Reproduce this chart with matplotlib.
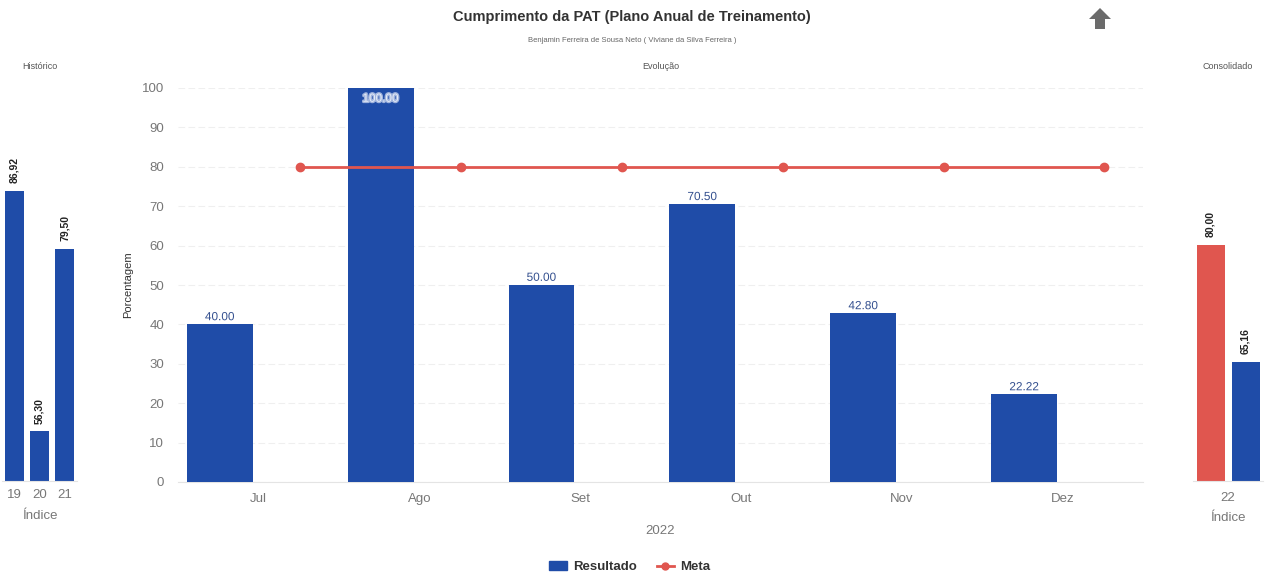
import matplotlib
matplotlib.use("Agg")
import matplotlib.pyplot as plt
import matplotlib.patheffects as pe
from matplotlib.patches import Polygon
from matplotlib.lines import Line2D
from matplotlib.patches import Patch

# ---- data ----
months = ["Jul", "Ago", "Set", "Out", "Nov", "Dez"]
resultado = [40.00, 100.00, 50.00, 70.50, 42.80, 22.22]
meta = [80, 80, 80, 80, 80, 80]

hist_labels = ["19", "20", "21"]
hist_values = [86.92, 56.30, 79.50]

cons_labels = ["22"]
cons_meta = [80.00]
cons_result = [65.16]

BLUE = "#1f4ca8"
RED = "#e0564f"

W, H = 1266, 578
fig = plt.figure(figsize=(W / 100, H / 100), dpi=100)
plt.rcParams["font.family"] = ["Liberation Sans", "DejaVu Sans"]


def ax_px(x0, y0, x1, y1):
    return fig.add_axes([x0 / W, 1 - y1 / H, (x1 - x0) / W, (y1 - y0) / H])


# ---- main axes ----
ax = ax_px(178, 88, 1143, 482)
xs = list(range(len(months)))
ax.bar([x - 0.24 for x in xs], resultado, width=0.41, color=BLUE, zorder=3)
ax.plot([x + 0.26 for x in xs], meta, color=RED, marker="o", markersize=6, lw=2, zorder=4)
ax.set_xlim(-0.5, len(months) - 0.5)
ax.set_ylim(0, 100)
ax.set_yticks(range(0, 101, 10))
ax.set_xticks(xs)
ax.set_xticklabels(months)
ax.tick_params(axis="both", length=0, labelsize=9.5, colors="#777777", pad=10)
ax.tick_params(axis="x", pad=8)
ax.grid(axis="y", color="#efefef", lw=0.8, linestyle=(0, (6, 3)), zorder=0)
for s in ["top", "right", "left"]:
    ax.spines[s].set_visible(False)
ax.spines["bottom"].set_color("#e4e4e4")
ax.set_ylabel("Porcentagem", fontsize=8, color="#333333", labelpad=6)
ax.set_xlabel("2022", fontsize=9.5, color="#777777", labelpad=14)
ax.set_title("Evolução", fontsize=6.5, color="#555555", pad=14)
for x, v in zip(xs, resultado):
    txt = f"{v:.2f}"
    if v >= 97:
        ax.text(x - 0.24, v - 1.2, txt, ha="center", va="top", fontsize=8.5, color="#e6ecf8",
                zorder=5, path_effects=[pe.withStroke(linewidth=2, foreground="#9fb3dd")])
    else:
        ax.text(x - 0.24, v + 0.3, txt, ha="center", va="bottom", fontsize=8.5, color="#34508f",
                zorder=5, path_effects=[pe.withStroke(linewidth=2.5, foreground="white")])

# ---- histórico axes ----
axh = ax_px(2, 88, 77, 481)
hx = list(range(len(hist_labels)))
axh.bar(hx, [v - 50 for v in hist_values], bottom=50, width=0.76, color=BLUE)
axh.set_xlim(-0.5, len(hist_labels) - 0.5)
axh.set_ylim(50, 100)
axh.set_yticks([])
axh.set_xticks(hx)
axh.set_xticklabels(hist_labels)
axh.tick_params(axis="x", length=0, labelsize=9.5, colors="#777777", pad=6)
for s in ["top", "right", "left"]:
    axh.spines[s].set_visible(False)
axh.spines["bottom"].set_color("#e4e4e4")
axh.set_xlabel("Índice", fontsize=9.5, color="#777777", labelpad=6)
axh.set_title("Histórico", fontsize=6.5, color="#555555", pad=14)
for x, v in zip(hx, hist_values):
    axh.text(x, v + 1.0, f"{v:.2f}".replace(".", ","), rotation=90, ha="center", va="bottom",
             fontsize=7.5, fontweight="bold", color="#222222")

# ---- consolidado axes ----
axc = ax_px(1193, 88, 1263, 481)
axc.bar([-0.25], [v - 50 for v in cons_meta], bottom=50, width=0.4, color=RED)
axc.bar([0.25], [v - 50 for v in cons_result], bottom=50, width=0.4, color=BLUE)
axc.set_xlim(-0.5, 0.5)
axc.set_ylim(50, 100)
axc.set_yticks([])
axc.set_xticks([0])
axc.set_xticklabels(cons_labels)
axc.tick_params(axis="x", length=0, labelsize=9.5, colors="#777777", pad=8)
for s in ["top", "right", "left"]:
    axc.spines[s].set_visible(False)
axc.spines["bottom"].set_color("#e4e4e4")
axc.set_xlabel("Índice", fontsize=9.5, color="#777777", labelpad=6)
axc.set_title("Consolidado", fontsize=6.5, color="#555555", pad=14)
for x, v in zip([-0.25, 0.25], cons_meta + cons_result):
    axc.text(x, v + 1.0, f"{v:.2f}".replace(".", ","), rotation=90, ha="center", va="bottom",
             fontsize=7.5, fontweight="bold", color="#222222")

# ---- titles ----
fig.text(632 / W, 1 - 17 / H, "Cumprimento da PAT (Plano Anual de Treinamento)", ha="center",
         va="center", fontsize=10.5, fontweight="bold", color="#333333")
fig.text(632 / W, 1 - 40 / H, "Benjamin Ferreira de Sousa Neto ( Viviane da Silva Ferreira )",
         ha="center", va="center", fontsize=5.5, color="#666666")

# ---- arrow icon ----
cx, top = 1100, 8
pts = [(cx, top), (cx + 11, top + 11), (cx + 5, top + 11), (cx + 5, top + 21),
       (cx - 5, top + 21), (cx - 5, top + 11), (cx - 11, top + 11)]
fig.patches.append(Polygon([(px / W, 1 - py / H) for px, py in pts], closed=True,
                           transform=fig.transFigure, facecolor="#6b6b6b", edgecolor="none"))

# ---- legend ----
handles = [Patch(facecolor=BLUE, edgecolor=BLUE),
           Line2D([0], [0], color=RED, marker="o", lw=2, markersize=5)]
leg = fig.legend(handles, ["Resultado", "Meta"], loc="center", bbox_to_anchor=(630 / W, 1 - 567 / H),
                 ncol=2, frameon=False, fontsize=9.5, handlelength=1.3, handletextpad=0.5,
                 columnspacing=1.5)
for t in leg.get_texts():
    t.set_fontweight("bold")
    t.set_color("#333333")

fig.savefig("out.png", dpi=100, facecolor="white")
